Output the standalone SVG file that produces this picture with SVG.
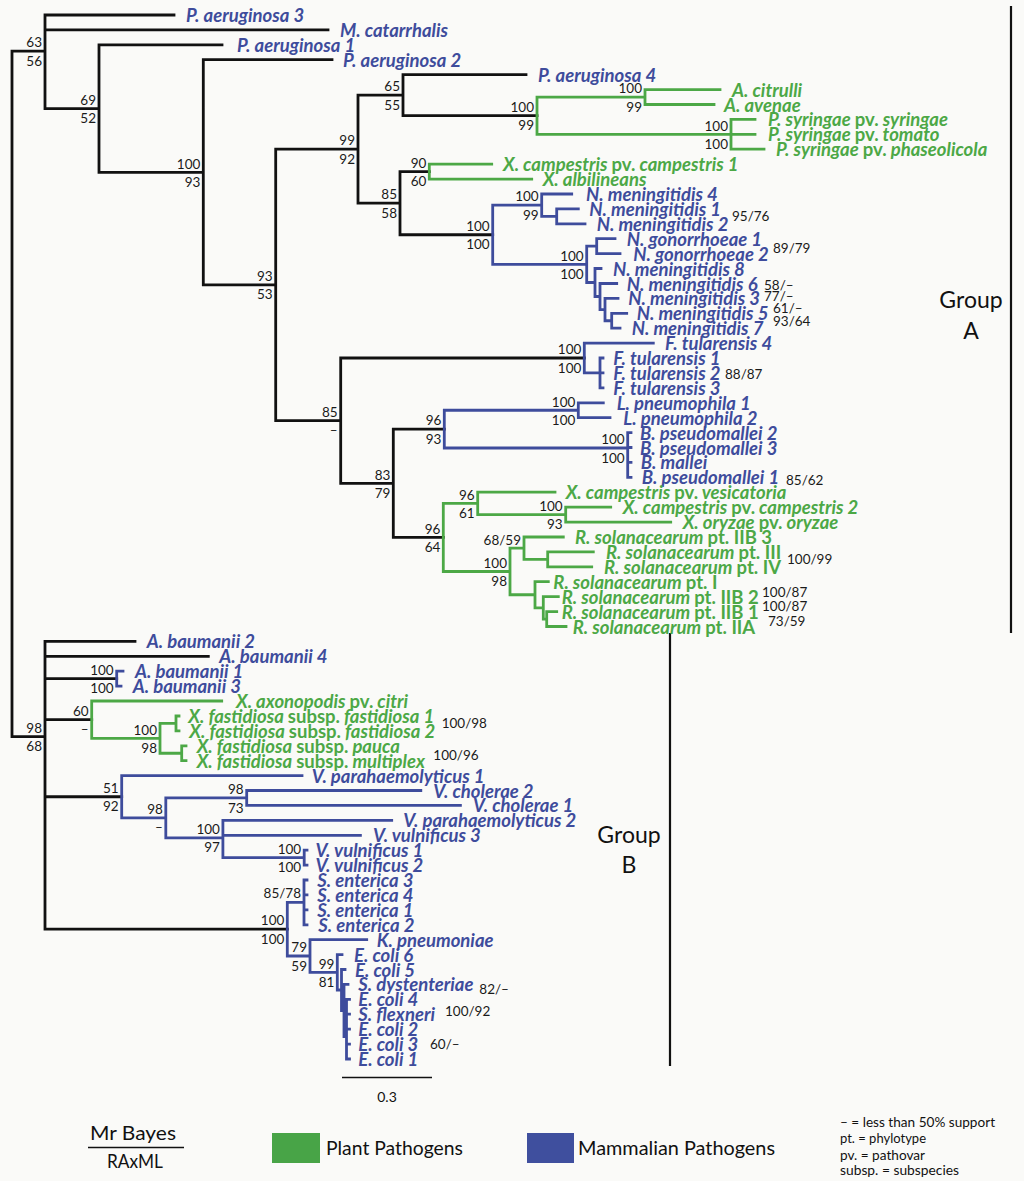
<svg xmlns="http://www.w3.org/2000/svg" width="1024" height="1181" viewBox="0 0 1024 1181">
<style>
.br{fill:none;stroke-width:2.8;stroke-linecap:square}
.k{stroke:#111}
.gr{stroke:#4CA846}
.bl{stroke:#3E4C9C}
.lf{font-family:Lato,"Open Sans",sans-serif;font-size:18.5px;font-weight:bold;font-style:italic}
.tb{fill:#3E4C9C}
.tg{fill:#4CA846}
.u{font-style:normal}
.sp{font-family:Lato,"Open Sans",sans-serif;font-size:13.5px;fill:#1a1a1a}
.e{text-anchor:end}
.grp{font-family:Lato,"Open Sans",sans-serif;font-size:23px;fill:#111;text-anchor:middle}
.lg{font-family:Lato,"Open Sans",sans-serif;font-size:19px;fill:#111}
.nt{font-family:Lato,"Open Sans",sans-serif;font-size:14px;fill:#111}
</style>
<rect width="1024" height="1181" fill="#FAFAF8"/>
<g id="connectors">
<path class="br k" d="M12,51.15V736.7 M12,51.15H45 M12,736.7H45
M45,15V108.55 M45,15H174 M45,29.9H328 M45,108.55H99
M99,44.8V172.3 M99,44.8H222 M99,172.3H203.3
M203.3,59.7V284.9 M203.3,59.7H332 M203.3,284.9H275.7
M275.7,149.2V420.65 M275.7,149.2H358 M275.7,420.65H340.7
M358,95.2V203.2 M358,95.2H403 M358,203.2H400
M403,74.7V115.7 M403,74.7H526 M403,115.7H537
M400,171.6V234.75 M400,171.6H429.3 M400,234.75H492.7
M340.7,358V483.3 M340.7,358H584.3 M340.7,483.3H393.3
M393.3,429.1V537.45 M393.3,429.1H444.3 M393.3,537.45H443.3
M45,641.4V929.2 M45,641.4H135 M45,656.3H208.3 M45,678.65H116.7 M45,719.7H91.7 M45,796.75H121.7 M45,929.2H287.3"/>
<path class="br gr" d="M537,97.05V134.3 M537,97.05H645 M537,134.3H731
M645,89.6V104.5 M645,89.6H720 M645,104.5H714
M731,119.4V149.2 M731,119.4H755 M731,134.3H755 M731,149.2H764
M429.3,164.1V179.1 M429.3,164.1H491.7 M429.3,179.1H531.7
M443.3,503.4V571.5 M443.3,503.4H477.7 M443.3,571.5H510
M477.7,492.2V514.65 M477.7,492.2H555 M477.7,514.65H565.7
M565.7,507.2V522.1 M565.7,507.2H610.7 M565.7,522.1H670.7
M510,548.2V594.75 M510,548.2H524 M510,594.75H535
M524,537V559.35 M524,537H563.3 M524,559.35H547.7
M547.7,551.9V566.8 M547.7,551.9H593.3 M547.7,566.8H591.7
M535,581.7V607.8 M535,581.7H548.3 M535,607.8H543.3
M543.3,596.6V619.05 M543.3,596.6H558.3 M543.3,619.05H546.7
M546.7,611.6V626.5 M546.7,611.6H556.7 M546.7,626.5H566
M91.7,701V738.35 M91.7,701H221.7 M91.7,738.35H160
M160,723.45V753.25 M160,723.45H176 M160,753.25H181.7
M176,716V730.9 M176,716H179 M176,730.9H179
M181.7,745.8V760.7 M181.7,745.8H186 M181.7,760.7H186"/>
<path class="br bl" d="M492.7,205.2V264.3 M492.7,205.2H541.7 M492.7,264.3H586.7
M541.7,194V216.35 M541.7,194H571.7 M541.7,216.35H556.7
M556.7,208.9V223.8 M556.7,208.9H578.3 M556.7,223.8H585
M586.7,246.15V282.5 M586.7,246.15H596.7 M586.7,282.5H595
M596.7,238.7V253.6 M596.7,238.7H615 M596.7,253.6H620
M595,268.5V296.5 M595,268.5H601 M595,296.5H600
M600,283.5V309.6 M600,283.5H616.7 M600,309.6H605
M605,298.4V320.75 M605,298.4H618 M605,320.75H611.7
M611.7,313.3V328.2 M611.7,313.3H626.7 M611.7,328.2H620
M584.3,343.1V372.9 M584.3,343.1H653.3 M584.3,372.9H600
M600,358V387.9 M600,358H603 M600,372.9H603 M600,387.9H603
M444.3,410.25V448 M444.3,410.25H578.3 M444.3,448H627.7
M578.3,402.8V417.7 M578.3,402.8H603.3 M578.3,417.7H610
M627.7,432.6V477.3 M627.7,432.6H631 M627.7,447.5H631 M627.7,462.4H631 M627.7,477.3H631
M116.7,671.2V686.1 M116.7,671.2H123 M116.7,686.1H121
M121.7,775.6V817.9 M121.7,775.6H302 M121.7,817.9H165.8
M165.8,797.95V837.8 M165.8,797.95H246.7 M165.8,837.8H222.9
M246.7,790.5V805.4 M246.7,790.5H420.8 M246.7,805.4H460.4
M222.9,820.4V857.65 M222.9,820.4H391.7 M222.9,835.3H360.4 M222.9,857.65H304.2
M304.2,850.2V865.1 M304.2,850.2H307 M304.2,865.1H307
M287.3,902.4V956 M287.3,902.4H304 M287.3,956H310
M304,880V924.8 M304,880H307 M304,894.9H307 M304,909.8H307 M304,924.8H307
M310,939.7V972.3 M310,939.7H366.7 M310,972.3H337.3
M337.3,954.6V990 M337.3,954.6H342 M337.3,990H341.5
M341.5,969.5V1010.5 M341.5,969.5H345 M341.5,1010.5H344
M344,984.4V1036.6 M344,984.4H348 M344,1036.6H346.5
M346.5,999.3V1059 M346.5,999.3H349.5 M346.5,1014.2H349.5 M346.5,1029.2H349.5 M346.5,1044.1H349.5 M346.5,1059H349.5"/>
<path fill="none" stroke="#111" stroke-width="2.2" d="M1011,6V633 M670,633V1066"/>
<path fill="none" stroke="#111" stroke-width="1.6" d="M342,1077.5H432"/>
</g>
<g id="leaves" class="lf">
<g id="leaf-paer3"><text class="tb" x="186" y="22">P. aeruginosa 3</text></g>
<g id="leaf-mcat"><text class="tb" x="340" y="36.9">M. catarrhalis</text></g>
<g id="leaf-paer1"><text class="tb" x="237" y="51.8">P. aeruginosa 1</text></g>
<g id="leaf-paer2"><text class="tb" x="343" y="66.7">P. aeruginosa 2</text></g>
<g id="leaf-paer4"><text class="tb" x="538" y="81.7">P. aeruginosa 4</text></g>
<g id="leaf-acit"><text class="tg" x="732" y="96.6">A. citrulli</text></g>
<g id="leaf-aave"><text class="tg" x="724" y="111.5">A. avenae</text></g>
<g id="leaf-psyr"><text class="tg" x="768" y="126.4">P. syringae <tspan class="u">pv.</tspan> syringae</text></g>
<g id="leaf-ptom"><text class="tg" x="768" y="141.3">P. syringae <tspan class="u">pv.</tspan> tomato</text></g>
<g id="leaf-ppha"><text class="tg" x="776" y="156.2">P. syringae <tspan class="u">pv.</tspan> phaseolicola</text></g>
<g id="leaf-xcc1"><text class="tg" x="503" y="171.1">X. campestris <tspan class="u">pv.</tspan> campestris 1</text></g>
<g id="leaf-xalb"><text class="tg" x="542.7" y="186.1">X. albilineans</text></g>
<g id="leaf-nm4"><text class="tb" x="586" y="201">N. meningitidis 4</text></g>
<g id="leaf-nm1"><text class="tb" x="589.3" y="215.9">N. meningitidis 1</text></g>
<g id="leaf-nm2"><text class="tb" x="596.7" y="230.8">N. meningitidis 2</text></g>
<g id="leaf-ng1"><text class="tb" x="626.7" y="245.7">N. gonorrhoeae 1</text></g>
<g id="leaf-ng2"><text class="tb" x="633.3" y="260.6">N. gonorrhoeae 2</text></g>
<g id="leaf-nm8"><text class="tb" x="613" y="275.5">N. meningitidis 8</text></g>
<g id="leaf-nm6"><text class="tb" x="626.7" y="290.5">N. meningitidis 6</text></g>
<g id="leaf-nm3"><text class="tb" x="628.3" y="305.4">N. meningitidis 3</text></g>
<g id="leaf-nm5"><text class="tb" x="636.7" y="320.3">N. meningitidis 5</text></g>
<g id="leaf-nm7"><text class="tb" x="631.7" y="335.2">N. meningitidis 7</text></g>
<g id="leaf-ft4"><text class="tb" x="665" y="350.1">F. tularensis 4</text></g>
<g id="leaf-ft1"><text class="tb" x="613.3" y="365">F. tularensis 1</text></g>
<g id="leaf-ft2"><text class="tb" x="613.3" y="379.9">F. tularensis 2</text></g>
<g id="leaf-ft3"><text class="tb" x="613.3" y="394.9">F. tularensis 3</text></g>
<g id="leaf-lp1"><text class="tb" x="616.7" y="409.8">L. pneumophila 1</text></g>
<g id="leaf-lp2"><text class="tb" x="623.3" y="424.7">L. pneumophila 2</text></g>
<g id="leaf-bp2"><text class="tb" x="640" y="439.6">B. pseudomallei 2</text></g>
<g id="leaf-bp3"><text class="tb" x="640" y="454.5">B. pseudomallei 3</text></g>
<g id="leaf-bm"><text class="tb" x="640.7" y="469.4">B. mallei</text></g>
<g id="leaf-bp1"><text class="tb" x="641.7" y="484.3">B. pseudomallei 1</text></g>
<g id="leaf-xcv"><text class="tg" x="565.7" y="499.2">X. campestris <tspan class="u">pv.</tspan> vesicatoria</text></g>
<g id="leaf-xcc2"><text class="tg" x="622.7" y="514.2">X. campestris <tspan class="u">pv.</tspan> campestris 2</text></g>
<g id="leaf-xoo"><text class="tg" x="682.7" y="529.1">X. oryzae <tspan class="u">pv.</tspan> oryzae</text></g>
<g id="leaf-rs-iib3"><text class="tg" x="575" y="544">R. solanacearum <tspan class="u">pt. IIB 3</tspan></text></g>
<g id="leaf-rs-iii"><text class="tg" x="606" y="558.9">R. solanacearum <tspan class="u">pt. III</tspan></text></g>
<g id="leaf-rs-iv"><text class="tg" x="604" y="573.8">R. solanacearum <tspan class="u">pt. IV</tspan></text></g>
<g id="leaf-rs-i"><text class="tg" x="553.3" y="588.7">R. solanacearum <tspan class="u">pt. I</tspan></text></g>
<g id="leaf-rs-iib2"><text class="tg" x="561.7" y="603.6">R. solanacearum <tspan class="u">pt. IIB 2</tspan></text></g>
<g id="leaf-rs-iib1"><text class="tg" x="561.7" y="618.6">R. solanacearum <tspan class="u">pt. IIB 1</tspan></text></g>
<g id="leaf-rs-iia"><text class="tg" x="572.7" y="633.5">R. solanacearum <tspan class="u">pt. IIA</tspan></text></g>
<g id="leaf-ab2"><text class="tb" x="146.7" y="648.4">A. baumanii 2</text></g>
<g id="leaf-ab4"><text class="tb" x="219.3" y="663.3">A. baumanii 4</text></g>
<g id="leaf-ab1"><text class="tb" x="135" y="678.2">A. baumanii 1</text></g>
<g id="leaf-ab3"><text class="tb" x="132.7" y="693.1">A. baumanii 3</text></g>
<g id="leaf-xac"><text class="tg" x="236" y="708">X. axonopodis <tspan class="u">pv.</tspan> citri</text></g>
<g id="leaf-xff1"><text class="tg" x="188.3" y="723">X. fastidiosa <tspan class="u">subsp.</tspan> fastidiosa 1</text></g>
<g id="leaf-xff2"><text class="tg" x="189.3" y="737.9">X. fastidiosa <tspan class="u">subsp.</tspan> fastidiosa 2</text></g>
<g id="leaf-xfp"><text class="tg" x="196.7" y="752.8">X. fastidiosa <tspan class="u">subsp.</tspan> pauca</text></g>
<g id="leaf-xfm"><text class="tg" x="196.7" y="767.7">X. fastidiosa <tspan class="u">subsp.</tspan> multiplex</text></g>
<g id="leaf-vp1"><text class="tb" x="311.7" y="782.6">V. parahaemolyticus 1</text></g>
<g id="leaf-vc2"><text class="tb" x="433.3" y="797.5">V. cholerae 2</text></g>
<g id="leaf-vc1"><text class="tb" x="473" y="812.4">V. cholerae 1</text></g>
<g id="leaf-vp2"><text class="tb" x="403.3" y="827.4">V. parahaemolyticus 2</text></g>
<g id="leaf-vv3"><text class="tb" x="373" y="842.3">V. vulnificus 3</text></g>
<g id="leaf-vv1"><text class="tb" x="315.4" y="857.2">V. vulnificus 1</text></g>
<g id="leaf-vv2"><text class="tb" x="315.4" y="872.1">V. vulnificus 2</text></g>
<g id="leaf-se3"><text class="tb" x="317.3" y="887">S. enterica 3</text></g>
<g id="leaf-se4"><text class="tb" x="317.3" y="901.9">S. enterica 4</text></g>
<g id="leaf-se1"><text class="tb" x="317.3" y="916.8">S. enterica 1</text></g>
<g id="leaf-se2"><text class="tb" x="318.3" y="931.8">S. enterica 2</text></g>
<g id="leaf-kp"><text class="tb" x="376.7" y="946.7">K. pneumoniae</text></g>
<g id="leaf-ec6"><text class="tb" x="354" y="961.6">E. coli 6</text></g>
<g id="leaf-ec5"><text class="tb" x="355" y="976.5">E. coli 5</text></g>
<g id="leaf-sd"><text class="tb" x="358.3" y="991.4">S. dystenteriae</text></g>
<g id="leaf-ec4"><text class="tb" x="358.3" y="1006.3">E. coli 4</text></g>
<g id="leaf-sf"><text class="tb" x="358.3" y="1021.2">S. flexneri</text></g>
<g id="leaf-ec2"><text class="tb" x="358.3" y="1036.2">E. coli 2</text></g>
<g id="leaf-ec3"><text class="tb" x="358.3" y="1051.1">E. coli 3</text></g>
<g id="leaf-ec1"><text class="tb" x="358.3" y="1066">E. coli 1</text></g>
</g>
<g id="support" class="sp">
<g id="node-A" class="e"><text x="42" y="47.4">63</text><text x="42" y="65.7">56</text></g>
<g id="node-C" class="e"><text x="96" y="104.8">69</text><text x="96" y="123">52</text></g>
<g id="node-D" class="e"><text x="200.3" y="168.5">100</text><text x="200.3" y="186.8">93</text></g>
<g id="node-E" class="e"><text x="272.7" y="281.1">93</text><text x="272.7" y="299.4">53</text></g>
<g id="node-F" class="e"><text x="355" y="145.4">99</text><text x="355" y="163.7">92</text></g>
<g id="node-H" class="e"><text x="400" y="91.4">65</text><text x="400" y="109.7">55</text></g>
<g id="node-J" class="e"><text x="534" y="111.9">100</text><text x="534" y="130.2">99</text></g>
<g id="node-K" class="e"><text x="642" y="93.3">100</text><text x="642" y="111.5">99</text></g>
<g id="node-L" class="e"><text x="728" y="130.5">100</text><text x="728" y="148.8">100</text></g>
<g id="node-I" class="e"><text x="397" y="199.4">85</text><text x="397" y="217.7">58</text></g>
<g id="node-M" class="e"><text x="426.3" y="167.8">90</text><text x="426.3" y="186.1">60</text></g>
<g id="node-N" class="e"><text x="489.7" y="231">100</text><text x="489.7" y="249.3">100</text></g>
<g id="node-O" class="e"><text x="538.7" y="201.4">100</text><text x="538.7" y="219.7">99</text></g>
<g id="node-P" class="e"><text x="583.7" y="260.5">100</text><text x="583.7" y="278.8">100</text></g>
<g id="node-G" class="e"><text x="337.7" y="416.9">85</text><text x="337.7" y="435.2">–</text></g>
<g id="node-W" class="e"><text x="581.3" y="354.2">100</text><text x="581.3" y="372.5">100</text></g>
<g id="node-X" class="e"><text x="390.3" y="479.5">83</text><text x="390.3" y="497.8">79</text></g>
<g id="node-Z" class="e"><text x="441.3" y="425.3">96</text><text x="441.3" y="443.6">93</text></g>
<g id="node-AB" class="e"><text x="575.3" y="406.5">100</text><text x="575.3" y="424.8">100</text></g>
<g id="node-AC" class="e"><text x="624.7" y="444.2">100</text><text x="624.7" y="462.5">100</text></g>
<g id="node-AA" class="e"><text x="440.3" y="533.7">96</text><text x="440.3" y="552">64</text></g>
<g id="node-AD" class="e"><text x="474.7" y="499.6">96</text><text x="474.7" y="517.9">61</text></g>
<g id="node-AF" class="e"><text x="562.7" y="510.9">100</text><text x="562.7" y="529.2">93</text></g>
<g id="node-AE" class="e"><text x="507" y="567.7">100</text><text x="507" y="586">98</text></g>
<g id="node-AG" class="e"><text x="521" y="544.5">68/59</text></g>
<g id="node-B" class="e"><text x="42" y="732.9">98</text><text x="42" y="751.2">68</text></g>
<g id="node-AM" class="e"><text x="113.7" y="674.9">100</text><text x="113.7" y="693.2">100</text></g>
<g id="node-AN" class="e"><text x="88.7" y="715.9">60</text><text x="88.7" y="734.2">–</text></g>
<g id="node-AO" class="e"><text x="157" y="734.6">100</text><text x="157" y="752.9">98</text></g>
<g id="node-AR" class="e"><text x="118.7" y="793">51</text><text x="118.7" y="811.3">92</text></g>
<g id="node-AS" class="e"><text x="162.8" y="814.1">98</text><text x="162.8" y="832.4">–</text></g>
<g id="node-AT" class="e"><text x="243.7" y="794.2">98</text><text x="243.7" y="812.5">73</text></g>
<g id="node-AU" class="e"><text x="219.9" y="834">100</text><text x="219.9" y="852.3">97</text></g>
<g id="node-AV" class="e"><text x="301.2" y="853.9">100</text><text x="301.2" y="872.2">100</text></g>
<g id="node-AW" class="e"><text x="284.3" y="925.4">100</text><text x="284.3" y="943.7">100</text></g>
<g id="node-AX" class="e"><text x="301" y="898">85/78</text></g>
<g id="node-AY" class="e"><text x="307" y="952.2">79</text><text x="307" y="970.5">59</text></g>
<g id="node-AZ" class="e"><text x="334.3" y="968.5">99</text><text x="334.3" y="986.8">81</text></g>
<g id="node-Q"><text x="732" y="220.7">95/76</text></g>
<g id="node-R"><text x="773" y="253">89/79</text></g>
<g id="node-T"><text x="764" y="289.7">58/–</text></g>
<g id="node-U"><text x="764" y="301.4">77/–</text></g>
<g id="node-V"><text x="773" y="313">61/–</text></g>
<g id="node-V2"><text x="773" y="326.4">93/64</text></g>
<g id="node-Y"><text x="725" y="379">88/87</text></g>
<g id="node-AC2"><text x="786" y="484.7">85/62</text></g>
<g id="node-AI"><text x="787" y="563.7">100/99</text></g>
<g id="node-AJ"><text x="762" y="596.7">100/87</text></g>
<g id="node-AK"><text x="762" y="611.4">100/87</text></g>
<g id="node-AK2"><text x="768" y="626.4">73/59</text></g>
<g id="node-AP"><text x="441.7" y="728">100/98</text></g>
<g id="node-AQ"><text x="433.3" y="759.7">100/96</text></g>
<g id="node-BB"><text x="479.3" y="994">82/–</text></g>
<g id="node-BC"><text x="445" y="1016.4">100/92</text></g>
<g id="node-BC2"><text x="430" y="1049">60/–</text></g>
</g>
<g id="groupA"><text class="grp" x="971" y="308">Group</text><text class="grp" x="971" y="339">A</text></g>
<g id="groupB"><text class="grp" x="629" y="843">Group</text><text class="grp" x="629" y="873">B</text></g>
<g id="scale"><text class="nt" x="387" y="1102" text-anchor="middle" font-size="16">0.3</text></g>
<g id="legend">
<text class="lg" x="90" y="1140" textLength="86" lengthAdjust="spacingAndGlyphs">Mr Bayes</text>
<path d="M88,1147.5H184" stroke="#111" stroke-width="1.6"/>
<text class="lg" x="107" y="1168" textLength="56" lengthAdjust="spacingAndGlyphs">RAxML</text>
<rect x="272" y="1133" width="48" height="30" fill="#48A447"/>
<text class="lg" x="326" y="1155" textLength="137" lengthAdjust="spacingAndGlyphs">Plant Pathogens</text>
<rect x="527" y="1133" width="47" height="30" fill="#3F4F9E"/>
<text class="lg" x="578" y="1155" textLength="197" lengthAdjust="spacingAndGlyphs">Mammalian Pathogens</text>
<text class="nt" x="840" y="1127" textLength="155" lengthAdjust="spacingAndGlyphs">– = less than 50% support</text>
<text class="nt" x="840" y="1143" textLength="86" lengthAdjust="spacingAndGlyphs">pt. = phylotype</text>
<text class="nt" x="840" y="1160" textLength="85" lengthAdjust="spacingAndGlyphs">pv. = pathovar</text>
<text class="nt" x="840" y="1175" textLength="119" lengthAdjust="spacingAndGlyphs">subsp. = subspecies</text>
</g>
</svg>
